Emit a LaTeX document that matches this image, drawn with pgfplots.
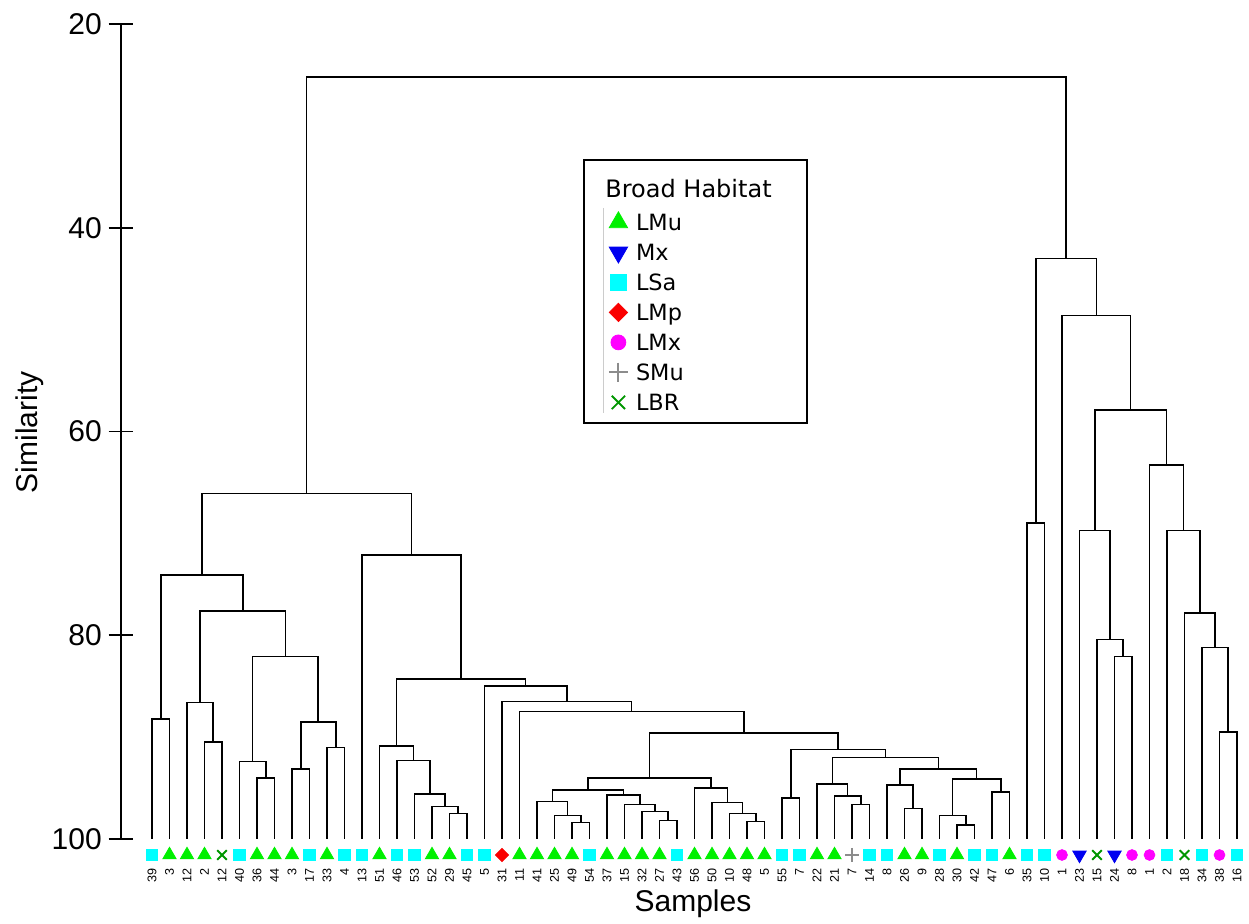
\documentclass[border=0pt]{standalone}
\usepackage{fontspec}
\setmainfont{Liberation Sans}
\newfontfamily\legfont{DejaVu Sans}
\usepackage{pgfplots}
\pgfplotsset{compat=1.18}
\definecolor{cLMu}{RGB}{0,240,0}
\definecolor{cMx}{RGB}{0,0,240}
\definecolor{cLSa}{RGB}{0,255,255}
\definecolor{cLMp}{RGB}{250,0,0}
\definecolor{cLMx}{RGB}{255,0,255}
\definecolor{cSMu}{RGB}{140,140,140}
\definecolor{cLBR}{RGB}{0,150,0}
\pgfplotsset{dendro/.style={forget plot, color=black, line width=0.8pt, mark=none}}
\begin{document}
\begin{tikzpicture}
\begin{axis}[
  scale only axis, width=564.15pt, height=407.5pt,
  xmin=-0.7886, xmax=63.686, ymin=20, ymax=100, y dir=reverse,
  axis y line=left, axis x line=bottom,
  axis line style={-, line width=0.8pt, black},
  x axis line style={draw=none},
  ytick={20,40,60,80,100},
  xtick={1,...,63},
  xticklabels={39,3,12,2,12,40,36,44,3,17,33,4,13,51,46,53,52,29,45,5,31,11,41,25,49,54,37,15,32,27,43,56,50,10,48,5,55,7,22,21,7,14,8,26,9,28,30,42,47,6,35,10,1,23,15,24,8,1,2,18,34,38,16},
  tick align=center, major tick length=12pt,
  ytick style={line width=0.8pt, black},
  xtick style={draw=none},
  /pgf/number format/assume math mode=true,
  yticklabel style={font=\fontsize{15}{18}\selectfont, inner sep=0pt, xshift=-3.3pt},
  xticklabel style={rotate=90, anchor=east, inner sep=0pt, font=\fontsize{6.3}{7}\selectfont},
  xticklabel shift=8.5pt,
  xlabel={Samples},
  xlabel style={at={(axis cs:31.91,107.14)}, anchor=base, font=\fontsize{15}{18}\selectfont},
  ylabel={Similarity},
  ylabel style={at={(axis cs:-5.571,60.08)}, anchor=base, font=\fontsize{15}{18}\selectfont},
  clip=false,
  legend style={at={(axis cs:26.886,38.258)}, anchor=north west, draw=none, fill=none,
    inner sep=0pt, row sep=3pt, column sep=2.3pt,
    font=\legfont\fontsize{11.2}{13}\selectfont,
    nodes={inner xsep=0pt, inner ysep=2pt, text height=8pt, text depth=0pt},
    cells={anchor=west}},
  legend image code/.code={\path (-6pt,0pt) (6pt,0pt); \draw[#1, every mark/.append style={scale=1.38}] plot coordinates {(0pt,0pt)};},
]
% ---- dendrogram, left cluster A
\addplot[dendro] coordinates {(1,100)(1,88.25)(2,88.25)(2,100)};
\addplot[dendro] coordinates {(4,100)(4,90.5)(5,90.5)(5,100)};
\addplot[dendro] coordinates {(3,100)(3,86.6)(4.5,86.6)(4.5,90.5)};
\addplot[dendro] coordinates {(7,100)(7,94.0)(8,94.0)(8,100)};
\addplot[dendro] coordinates {(6,100)(6,92.4)(7.5,92.4)(7.5,94.0)};
\addplot[dendro] coordinates {(9,100)(9,93.1)(10,93.1)(10,100)};
\addplot[dendro] coordinates {(11,100)(11,91.0)(12,91.0)(12,100)};
\addplot[dendro] coordinates {(9.5,93.1)(9.5,88.5)(11.5,88.5)(11.5,91.0)};
\addplot[dendro] coordinates {(6.75,92.4)(6.75,82.1)(10.5,82.1)(10.5,88.5)};
\addplot[dendro] coordinates {(3.75,86.6)(3.75,77.6)(8.625,77.6)(8.625,82.1)};
\addplot[dendro] coordinates {(1.5,88.25)(1.5,74.1)(6.1875,74.1)(6.1875,77.6)};
% ---- cluster B
\addplot[dendro] coordinates {(18,100)(18,97.5)(19,97.5)(19,100)};
\addplot[dendro] coordinates {(17,100)(17,96.8)(18.5,96.8)(18.5,97.5)};
\addplot[dendro] coordinates {(16,100)(16,95.6)(17.75,95.6)(17.75,96.8)};
\addplot[dendro] coordinates {(15,100)(15,92.3)(16.875,92.3)(16.875,95.6)};
\addplot[dendro] coordinates {(14,100)(14,90.9)(15.9375,90.9)(15.9375,92.3)};
\addplot[dendro] coordinates {(25,100)(25,98.4)(26,98.4)(26,100)};
\addplot[dendro] coordinates {(24,100)(24,97.7)(25.5,97.7)(25.5,98.4)};
\addplot[dendro] coordinates {(23,100)(23,96.3)(24.75,96.3)(24.75,97.7)};
\addplot[dendro] coordinates {(30,100)(30,98.2)(31,98.2)(31,100)};
\addplot[dendro] coordinates {(29,100)(29,97.3)(30.5,97.3)(30.5,98.2)};
\addplot[dendro] coordinates {(28,100)(28,96.6)(29.75,96.6)(29.75,97.3)};
\addplot[dendro] coordinates {(27,100)(27,95.7)(28.875,95.7)(28.875,96.6)};
\addplot[dendro] coordinates {(23.875,96.3)(23.875,95.2)(27.9375,95.2)(27.9375,95.7)};
\addplot[dendro] coordinates {(35,100)(35,98.3)(36,98.3)(36,100)};
\addplot[dendro] coordinates {(34,100)(34,97.5)(35.5,97.5)(35.5,98.3)};
\addplot[dendro] coordinates {(33,100)(33,96.4)(34.75,96.4)(34.75,97.5)};
\addplot[dendro] coordinates {(32,100)(32,95.0)(33.875,95.0)(33.875,96.4)};
\addplot[dendro] coordinates {(25.90625,95.2)(25.90625,94.0)(32.9375,94.0)(32.9375,95.0)};
\addplot[dendro] coordinates {(37,100)(37,96.0)(38,96.0)(38,100)};
\addplot[dendro] coordinates {(41,100)(41,96.6)(42,96.6)(42,100)};
\addplot[dendro] coordinates {(40,100)(40,95.8)(41.5,95.8)(41.5,96.6)};
\addplot[dendro] coordinates {(39,100)(39,94.6)(40.75,94.6)(40.75,95.8)};
\addplot[dendro] coordinates {(44,100)(44,97.0)(45,97.0)(45,100)};
\addplot[dendro] coordinates {(43,100)(43,94.7)(44.5,94.7)(44.5,97.0)};
\addplot[dendro] coordinates {(47,100)(47,98.6)(48,98.6)(48,100)};
\addplot[dendro] coordinates {(46,100)(46,97.7)(47.5,97.7)(47.5,98.6)};
\addplot[dendro] coordinates {(49,100)(49,95.4)(50,95.4)(50,100)};
\addplot[dendro] coordinates {(46.75,97.7)(46.75,94.1)(49.5,94.1)(49.5,95.4)};
\addplot[dendro] coordinates {(43.75,94.7)(43.75,93.1)(48.125,93.1)(48.125,94.1)};
\addplot[dendro] coordinates {(39.875,94.6)(39.875,92.0)(45.9375,92.0)(45.9375,93.1)};
\addplot[dendro] coordinates {(37.5,96.0)(37.5,91.2)(42.90625,91.2)(42.90625,92.0)};
\addplot[dendro] coordinates {(29.421875,94.0)(29.421875,89.6)(40.203125,89.6)(40.203125,91.2)};
\addplot[dendro] coordinates {(22,100)(22,87.5)(34.8125,87.5)(34.8125,89.6)};
\addplot[dendro] coordinates {(21,100)(21,86.5)(28.40625,86.5)(28.40625,87.5)};
\addplot[dendro] coordinates {(20,100)(20,85.0)(24.703125,85.0)(24.703125,86.5)};
\addplot[dendro] coordinates {(14.96875,90.9)(14.96875,84.3)(22.3515625,84.3)(22.3515625,85.0)};
\addplot[dendro] coordinates {(13,100)(13,72.1)(18.66015625,72.1)(18.66015625,84.3)};
\addplot[dendro] coordinates {(3.84375,74.1)(3.84375,66.1)(15.830078125,66.1)(15.830078125,72.1)};
% ---- right cluster
\addplot[dendro] coordinates {(51,100)(51,69.0)(52,69.0)(52,100)};
\addplot[dendro] coordinates {(56,100)(56,82.1)(57,82.1)(57,100)};
\addplot[dendro] coordinates {(55,100)(55,80.4)(56.5,80.4)(56.5,82.1)};
\addplot[dendro] coordinates {(54,100)(54,69.7)(55.75,69.7)(55.75,80.4)};
\addplot[dendro] coordinates {(62,100)(62,89.5)(63,89.5)(63,100)};
\addplot[dendro] coordinates {(61,100)(61,81.2)(62.5,81.2)(62.5,89.5)};
\addplot[dendro] coordinates {(60,100)(60,77.8)(61.75,77.8)(61.75,81.2)};
\addplot[dendro] coordinates {(59,100)(59,69.7)(60.875,69.7)(60.875,77.8)};
\addplot[dendro] coordinates {(58,100)(58,63.3)(59.9375,63.3)(59.9375,69.7)};
\addplot[dendro] coordinates {(54.875,69.7)(54.875,57.9)(58.96875,57.9)(58.96875,63.3)};
\addplot[dendro] coordinates {(53,100)(53,48.6)(56.921875,48.6)(56.921875,57.9)};
\addplot[dendro] coordinates {(51.5,69.0)(51.5,43.0)(54.9609375,43.0)(54.9609375,48.6)};
% ---- root
\addplot[dendro] coordinates {(9.8369140625,66.1)(9.8369140625,25.2)(53.23046875,25.2)(53.23046875,43.0)};
% ---- habitat markers
\addplot[only marks, mark=triangle*, mark size=3.84pt, color=cLMu] coordinates {
(2,101.57)(3,101.57)(4,101.57)(7,101.57)(8,101.57)(9,101.57)(11,101.57)(14,101.57)(17,101.57)(18,101.57)
(22,101.57)(23,101.57)(24,101.57)(25,101.57)(27,101.57)(28,101.57)(29,101.57)(30,101.57)(32,101.57)(33,101.57)
(34,101.57)(35,101.57)(36,101.57)(39,101.57)(40,101.57)(44,101.57)(45,101.57)(47,101.57)(50,101.57)};
\addlegendentry{LMu}
\addplot[only marks, mark=triangle*, mark options={rotate=180}, mark size=3.84pt, color=cMx] coordinates {
(54,101.57)(56,101.57)};
\addlegendentry{Mx}
\addplot[only marks, mark=square*, mark size=2.83pt, color=cLSa] coordinates {
(1,101.57)(6,101.57)(10,101.57)(12,101.57)(13,101.57)(15,101.57)(16,101.57)(19,101.57)(20,101.57)(26,101.57)
(31,101.57)(37,101.57)(38,101.57)(42,101.57)(43,101.57)(46,101.57)(48,101.57)(49,101.57)(51,101.57)(52,101.57)
(59,101.57)(61,101.57)(63,101.57)};
\addlegendentry{LSa}
\addplot[only marks, mark=square*, mark options={rotate=45}, mark size=2.35pt, color=cLMp] coordinates {
(21,101.57)};
\addlegendentry{LMp}
\addplot[only marks, mark=*, mark size=2.7pt, color=cLMx] coordinates {
(53,101.57)(57,101.57)(58,101.57)(62,101.57)};
\addlegendentry{LMx}
\addplot[only marks, mark=+, mark size=3.5pt, line width=1pt, color=cSMu] coordinates {
(41,101.57)};
\addlegendentry{SMu}
\addplot[only marks, mark=x, mark size=3.4pt, line width=0.9pt, color=cLBR] coordinates {
(5,101.57)(55,101.57)(60,101.57)};
\addlegendentry{LBR}
% ---- legend frame and title
\draw[line width=1pt, black] (axis cs:25.686,33.35) rectangle (axis cs:38.411,59.166);
\draw[line width=0.4pt, black!20] (axis cs:26.771,38.06) -- (axis cs:26.771,58.18);
\node[anchor=base west, font=\legfont\fontsize{12}{14}\selectfont, inner sep=0pt] at (axis cs:26.886,37.08) {Broad Habitat};
\coordinate (bbA) at (axis cs:-7.686,108.344);
\coordinate (bbB) at (axis cs:63.686,17.644);
\end{axis}
\pgfresetboundingbox
\path[use as bounding box] (bbA) rectangle (bbB);
\end{tikzpicture}
\end{document}
